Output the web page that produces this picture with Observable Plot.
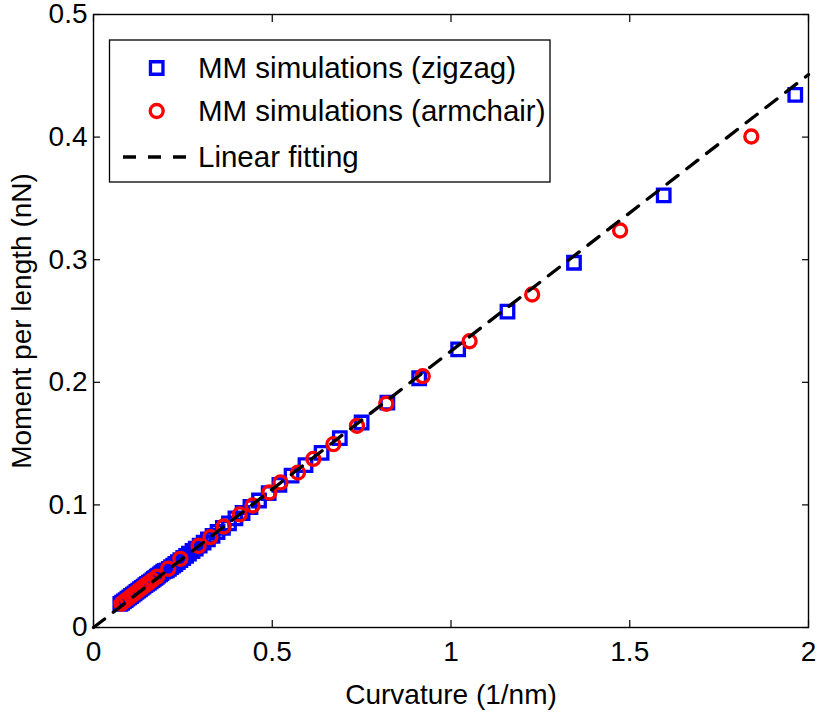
<!DOCTYPE html>
<html>
<head>
<meta charset="utf-8">
<script src="https://cdn.jsdelivr.net/npm/d3@7"></script>
<script src="https://cdn.jsdelivr.net/npm/@observablehq/plot@0.6"></script>
<style>
  body { margin: 0; background: #fff; }
  #chart { width: 817px; height: 716px; }
</style>
</head>
<body>
<div id="chart"></div>
<script>
// ---- data ----
const zigzagX = [1.963, 1.595, 1.344, 1.158, 1.020, 0.911, 0.822, 0.750, 0.689, 0.638, 0.593,
  0.554, 0.520, 0.490, 0.463, 0.439, 0.417, 0.397, 0.379, 0.362, 0.347, 0.333, 0.320, 0.308,
  0.297, 0.286, 0.277, 0.267, 0.259, 0.251, 0.243, 0.236, 0.229, 0.223, 0.217, 0.211, 0.205,
  0.200, 0.195, 0.190, 0.186, 0.181, 0.177, 0.173, 0.169, 0.165, 0.160, 0.155, 0.150, 0.145,
  0.140, 0.135, 0.130, 0.125, 0.120, 0.115, 0.110, 0.105, 0.100, 0.095, 0.090, 0.085, 0.080, 0.075];
const zigzagY = [0.4345, 0.3524, 0.2975, 0.2577, 0.2268, 0.2033, 0.1835, 0.1672, 0.1544, 0.1425, 0.1324,
  0.1238, 0.1163, 0.1096, 0.1036, 0.0983, 0.0934, 0.0890, 0.0850, 0.0812, 0.0779, 0.0748, 0.0719, 0.0693,
  0.0668, 0.0644, 0.0624, 0.0602, 0.0584, 0.0567, 0.0549, 0.0534, 0.0518, 0.0505, 0.0492, 0.0479, 0.0466,
  0.0462, 0.0455, 0.0443, 0.0434, 0.0423, 0.0414, 0.0405, 0.0396, 0.0387, 0.0376, 0.0365, 0.0356, 0.0345,
  0.0334, 0.0323, 0.0312, 0.0301, 0.0290, 0.0279, 0.0268, 0.0257, 0.0246, 0.0235, 0.0224, 0.0213, 0.0202, 0.0192];

const armchairX = [1.840, 1.473, 1.227, 1.052, 0.921, 0.819, 0.737, 0.671, 0.615, 0.572, 0.523,
  0.492, 0.445, 0.409, 0.364, 0.327, 0.294, 0.243, 0.209, 0.178,
  0.165, 0.155, 0.145, 0.135, 0.125, 0.115, 0.105, 0.095, 0.085, 0.078];
const armchairY = [0.4005, 0.3238, 0.2716, 0.2335, 0.2050, 0.1825, 0.1645, 0.1495, 0.1375, 0.1264, 0.1183,
  0.1101, 0.0995, 0.0922, 0.0824, 0.0737, 0.0665, 0.0560, 0.0479, 0.0415,
  0.0387, 0.0365, 0.0345, 0.0322, 0.0300, 0.0277, 0.0255, 0.0232, 0.0210, 0.0194];

const fitX = [0, 2];
const fitY = [0, 0.451];

const xTicks = [0, 0.5, 1, 1.5, 2];
const yTicks = [0, 0.1, 0.2, 0.3, 0.4, 0.5];
const xLabel = "Curvature (1/nm)";
const yLabel = "Moment per length (nN)";
const legendLabels = ["MM simulations (zigzag)", "MM simulations (armchair)", "Linear fitting"];

// ---- tables built from the arrays ----
const zigzag = zigzagX.map((x, i) => ({x, y: zigzagY[i]}));
const armchair = armchairX.map((x, i) => ({x, y: armchairY[i]}));
const fit = fitX.map((x, i) => ({x, y: fitY[i]}));

const FONT = "'Liberation Sans', Arial, Helvetica, sans-serif";
const BLUE = "#0000ff", RED = "#ff0000";

const plot = Plot.plot({
  width: 817,
  height: 716,
  marginLeft: 93,
  marginRight: 9,
  marginTop: 14,
  marginBottom: 89,
  style: {fontFamily: FONT, fontSize: "28px", color: "black", background: "white", overflow: "visible"},
  x: {domain: [0, 2]},
  y: {domain: [0, 0.5]},
  marks: [
    Plot.dot(zigzag, {x: "x", y: "y", symbol: "square", r: 7.05, stroke: BLUE, strokeWidth: 3.3, fill: "none"}),
    Plot.dot(armchair, {x: "x", y: "y", symbol: "circle", r: 6.5, stroke: RED, strokeWidth: 3.3, fill: "none"}),
    Plot.line(fit, {x: "x", y: "y", stroke: "black", strokeWidth: 3.3, strokeDasharray: "14,11"}),
    Plot.axisX(xTicks, {anchor: "bottom", tickSize: -7, tickPadding: 21, tickFormat: d => String(d), label: null, strokeWidth: 1.2}),
    Plot.axisX(xTicks, {anchor: "top", tickSize: -7, tickFormat: () => "", label: null, strokeWidth: 1.2}),
    Plot.axisY(yTicks, {anchor: "left", tickSize: -7, tickPadding: 13, tickFormat: d => String(d), label: null, strokeWidth: 1.2}),
    Plot.axisY(yTicks, {anchor: "right", tickSize: -7, tickFormat: () => "", label: null, strokeWidth: 1.2}),
    Plot.frame({stroke: "black", strokeWidth: 1.4}),
    Plot.text([xLabel], {text: d => d, frameAnchor: "bottom", dy: 68, lineAnchor: "middle", textAnchor: "middle", fontSize: 28}),
    Plot.text([yLabel], {text: d => d, frameAnchor: "left", dx: -71, rotate: -90, lineAnchor: "middle", textAnchor: "middle", fontSize: 28})
  ]
});

// ---- legend ----
const svg = d3.select(plot);
const lg = svg.append("g").attr("font-family", FONT).attr("font-size", 29.5).attr("text-anchor", "start");
lg.append("rect")
  .attr("x", 109.5).attr("y", 40).attr("width", 440.5).attr("height", 142)
  .attr("fill", "white").attr("stroke", "black").attr("stroke-width", 1.3);
const rowY = [68, 111, 157];
const symX = 156.7, textX = 198;
lg.append("path")
  .attr("transform", `translate(${symX},${rowY[0]})`)
  .attr("d", d3.symbol(d3.symbolSquare, 7.05 * 7.05 * Math.PI)())
  .attr("fill", "none").attr("stroke", BLUE).attr("stroke-width", 3.3);
lg.append("circle")
  .attr("cx", symX).attr("cy", rowY[1]).attr("r", 6.5)
  .attr("fill", "none").attr("stroke", RED).attr("stroke-width", 3.3);
lg.append("line")
  .attr("x1", 123).attr("x2", 188).attr("y1", rowY[2]).attr("y2", rowY[2])
  .attr("stroke", "black").attr("stroke-width", 3.3).attr("stroke-dasharray", "13,12");
legendLabels.forEach((t, i) => {
  lg.append("text").attr("x", textX).attr("y", rowY[i]).attr("dy", "0.35em")
    .attr("text-anchor", "start").attr("fill", "black").text(t);
});

document.getElementById("chart").appendChild(plot);
</script>
</body>
</html>
